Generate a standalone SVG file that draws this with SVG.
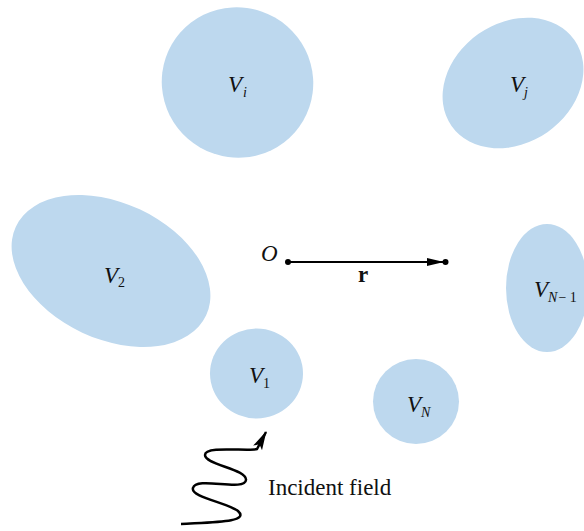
<svg xmlns="http://www.w3.org/2000/svg" width="584" height="531" viewBox="0 0 584 531">
<style>
.body{fill:#bdd8ee;stroke:none}
text{font-family:'Liberation Serif','Times New Roman',serif;fill:#111}
.v{font-style:italic;font-size:23px}
.s{font-size:14px}
.lbl{font-size:23px}
</style>
<defs>
<marker id="ah" markerWidth="18" markerHeight="10" refX="16" refY="5" orient="auto" markerUnits="userSpaceOnUse">
<path d="M0,1 L17,5 L0,9 Z" fill="#000"/>
</marker>
<marker id="ah2" markerWidth="20" markerHeight="12" refX="18" refY="6" orient="auto" markerUnits="userSpaceOnUse">
<path d="M0,1 L19,6 L0,11 L4,6 Z" fill="#000"/>
</marker>
</defs>
<rect width="584" height="531" fill="#fff"/>
<g id="Vi"><ellipse class="body" cx="237.5" cy="82.5" rx="76" ry="75" transform="rotate(30 237.5 82.5)"/><text class="v" x="228" y="92">V<tspan class="s" dx="1" dy="5">i</tspan></text></g>
<g id="Vj"><ellipse class="body" cx="513" cy="83" rx="75" ry="60" transform="rotate(-35 513 83)"/><text class="v" x="510" y="92">V<tspan class="s" dx="0" dy="5">j</tspan></text></g>
<g id="V2"><ellipse class="body" cx="111" cy="271" rx="105" ry="68" transform="rotate(25 111 271)"/><text class="v" x="104" y="283">V<tspan class="s" dx="0" dy="4" font-style="normal">2</tspan></text></g>
<g id="VN1"><ellipse class="body" cx="547" cy="288" rx="41" ry="64"/><text class="v" x="534" y="297">V<tspan class="s" dx="0" dy="5">N</tspan><tspan class="s" font-style="normal" dx="1">− 1</tspan></text></g>
<g id="V1"><ellipse class="body" cx="256.5" cy="373.5" rx="46.5" ry="45"/><text class="v" x="249" y="383">V<tspan class="s" dx="0" dy="5" font-style="normal">1</tspan></text></g>
<g id="VN"><ellipse class="body" cx="416" cy="401.5" rx="43" ry="42.5"/><text class="v" x="407" y="412">V<tspan class="s" dx="0" dy="5">N</tspan></text></g>
<g id="O"><text class="v" x="261" y="261">O</text></g>
<g id="connectors">
<line x1="288" y1="262" x2="443" y2="262" stroke="#000" stroke-width="2" marker-end="url(#ah)"/>
<circle cx="288" cy="262" r="3" fill="#000"/>
<circle cx="445.5" cy="262" r="3" fill="#000"/>
<path d="M181,524 C215,522 250,522 238,511 C228,503 190,497 193,488 C196,476 245,492 246,480 C247,469 205,465 205,455 C205,445 250,452 257,449 L266,432" fill="none" stroke="#000" stroke-width="2.5" marker-end="url(#ah2)"/>
</g>
<text class="lbl" x="358" y="282" font-weight="bold" font-size="21">r</text>
<text class="lbl" x="268" y="495">Incident field</text>
</svg>
